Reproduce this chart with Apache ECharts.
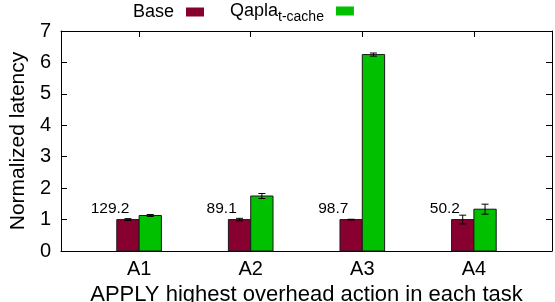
<!DOCTYPE html>
<html>
<head>
<meta charset="utf-8">
<script src="https://cdn.jsdelivr.net/npm/echarts@6/dist/echarts.min.js"></script>
<style>html,body{margin:0;padding:0;background:#fff}#c{width:555px;height:302px}</style>
</head>
<body>
<div id="c"></div>
<script>
const categories = ['A1', 'A2', 'A3', 'A4'];
const baseValues = [1.0, 1.0, 1.0, 1.0];
const baseErrors = [0.03, 0.04, 0.01, 0.14];
const qaplaValues = [1.13, 1.75, 6.25, 1.33];
const qaplaErrors = [0.03, 0.08, 0.05, 0.16];
const baseLabels = ['129.2', '89.1', '98.7', '50.2'];
const yTicks = [0, 1, 2, 3, 4, 5, 6, 7];

const FONT = 'Liberation Sans';
const BASE_COLOR = '#880030';
const QAPLA_COLOR = '#00c000';
const catIdx = categories.map((c, i) => i);

function barRenderer(off0, off1) {
  return function (params, api) {
    const x = api.value(0), y = api.value(1), e = api.value(2);
    const tl = api.coord([x + off0, y]);
    const br = api.coord([x + off1, 0]);
    const cx = api.coord([x + (off0 + off1) / 2, 0])[0];
    const hi = api.coord([x, y + e])[1];
    const lo = api.coord([x, y - e])[1];
    const cap = 3.5;
    const line = (x1, y1, x2, y2) => ({
      type: 'line', shape: { x1, y1, x2, y2 },
      style: { stroke: '#000', lineWidth: 1 }
    });
    return {
      type: 'group',
      children: [
        { type: 'rect', shape: { x: tl[0], y: tl[1], width: br[0] - tl[0], height: br[1] - tl[1] },
          style: { fill: api.visual('color'), stroke: '#1a1a1a', lineWidth: 1 } },
        line(cx, hi, cx, lo),
        line(cx - cap, hi, cx + cap, hi),
        line(cx - cap, lo, cx + cap, lo)
      ]
    };
  };
}

const option = {
  animation: false,
  backgroundColor: '#fff',
  textStyle: { fontFamily: FONT, color: '#000' },
  grid: { left: 61, right: 3, top: 31, bottom: 51, containLabel: false, outerBoundsMode: 'none' },
  legend: [
    {
      data: ['Base'], left: 133, top: 3, padding: 0, align: 'right',
      icon: 'rect', itemWidth: 18, itemHeight: 9,
      itemStyle: { borderWidth: 0 },
      textStyle: { fontFamily: FONT, fontSize: 18, color: '#000', padding: [0, 7, 0, 0] }
    },
    {
      data: ['Qapla_t-cache'], left: 230, top: 2, padding: 0, align: 'right',
      icon: 'rect', itemWidth: 18, itemHeight: 9,
      itemStyle: { borderWidth: 0 },
      formatter: () => '{m|Qapla}{s|t-cache}',
      textStyle: {
        fontFamily: FONT, color: '#000', padding: [0, 7, 0, 0],
        rich: {
          m: { fontFamily: FONT, fontSize: 18, color: '#000' },
          s: { fontFamily: FONT, fontSize: 14, color: '#000', padding: [12, 0, 0, 0] }
        }
      }
    }
  ],
  xAxis: [
    {
      type: 'value', min: -0.7, max: 3.7, position: 'bottom',
      axisLine: { show: true, onZero: false, lineStyle: { color: '#000', width: 1 } },
      axisTick: { show: true, inside: true, length: 6, customValues: catIdx, lineStyle: { color: '#000' } },
      axisLabel: {
        customValues: catIdx, formatter: v => categories[Math.round(v)] || '',
        fontFamily: FONT, fontSize: 20, color: '#000', margin: 8
      },
      splitLine: { show: false },
      name: 'APPLY highest overhead action in each task',
      nameLocation: 'middle', nameGap: 26,
      nameTextStyle: { fontFamily: FONT, fontSize: 22, color: '#000' }
    },
    {
      type: 'value', min: -0.7, max: 3.7, position: 'top',
      axisLine: { show: true, onZero: false, lineStyle: { color: '#000', width: 1 } },
      axisTick: { show: true, inside: true, length: 6, customValues: catIdx, lineStyle: { color: '#000' } },
      axisLabel: { show: false },
      splitLine: { show: false }
    }
  ],
  yAxis: [
    {
      type: 'value', min: 0, max: 7, interval: 1, position: 'left',
      axisLine: { show: true, onZero: false, lineStyle: { color: '#000', width: 1 } },
      axisTick: { show: true, inside: true, length: 6, lineStyle: { color: '#000' } },
      axisLabel: {
        fontFamily: FONT, fontSize: 20, color: '#000', margin: 10,
        formatter: v => yTicks.includes(v) ? String(v) : ''
      },
      splitLine: { show: false },
      name: 'Normalized latency', nameLocation: 'middle', nameGap: 31,
      nameTextStyle: { fontFamily: FONT, fontSize: 21, color: '#000' }
    },
    {
      type: 'value', min: 0, max: 7, interval: 1, position: 'right',
      axisLine: { show: true, onZero: false, lineStyle: { color: '#000', width: 1 } },
      axisTick: { show: true, inside: true, length: 6, lineStyle: { color: '#000' } },
      axisLabel: { show: false },
      splitLine: { show: false }
    }
  ],
  series: [
    {
      name: 'Base', type: 'custom', xAxisIndex: 0, yAxisIndex: 0,
      itemStyle: { color: BASE_COLOR },
      encode: { x: 0, y: 1 },
      data: catIdx.map(i => [i, baseValues[i], baseErrors[i]]),
      renderItem: barRenderer(-0.2, 0)
    },
    {
      name: 'Qapla_t-cache', type: 'custom', xAxisIndex: 0, yAxisIndex: 0,
      itemStyle: { color: QAPLA_COLOR },
      encode: { x: 0, y: 1 },
      data: catIdx.map(i => [i, qaplaValues[i], qaplaErrors[i]]),
      renderItem: barRenderer(0, 0.2)
    },
    {
      name: 'labels', type: 'custom', xAxisIndex: 0, yAxisIndex: 0,
      encode: { x: 0, y: 1 },
      data: catIdx.map(i => [i - 0.26, 1.34, baseLabels[i]]),
      renderItem: function (params, api) {
        const p = api.coord([api.value(0), api.value(1)]);
        return {
          type: 'text', x: p[0], y: p[1],
          style: {
            text: baseLabels[params.dataIndex], fontFamily: FONT, fontSize: 15.5,
            fill: '#000', align: 'center', verticalAlign: 'middle'
          }
        };
      }
    }
  ]
};

const chart = echarts.init(document.getElementById('c'), null, { renderer: 'canvas' });
chart.setOption(option);
</script>
</body>
</html>
